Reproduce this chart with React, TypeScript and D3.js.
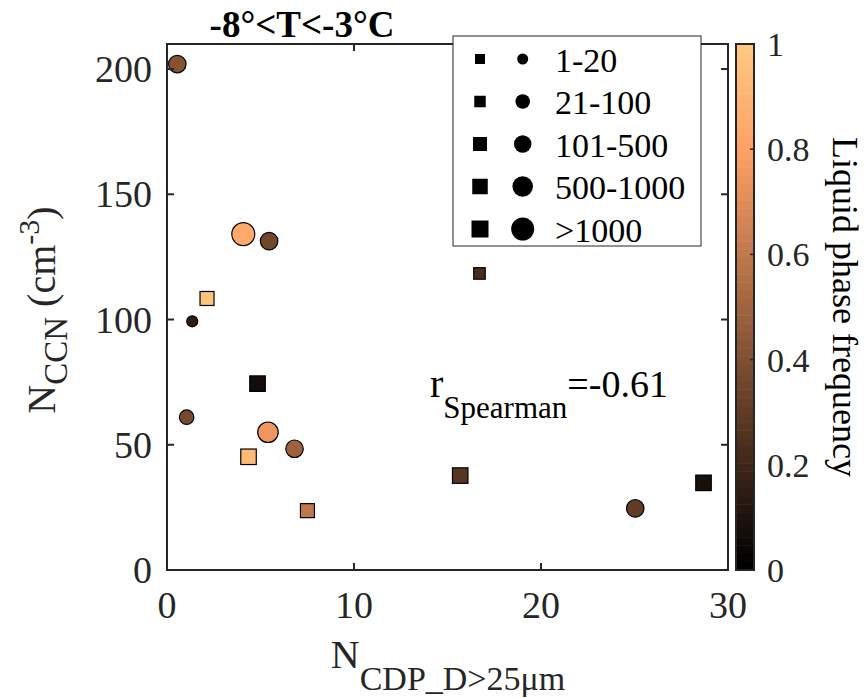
import React from "react";
import * as d3 from "d3";

const xValues = [0.55, 4.08, 5.46, 2.14, 1.35, 4.84, 1.05, 5.4, 6.82, 4.36, 7.51, 16.71, 15.68, 25.04, 28.69];
const yValues = [202, 134.1, 131.3, 108.4, 99.3, 74.4, 61, 55, 48.4, 45.2, 23.7, 118.4, 37.7, 24.6, 34.8];
const liquidFreq = [0.42, 0.85, 0.35, 0.98, 0.14, 0.06, 0.37, 0.75, 0.49, 0.93, 0.6, 0.23, 0.27, 0.3, 0.08];
const shapes = ["circle", "circle", "circle", "square", "circle", "square", "circle", "circle", "circle", "square", "square", "square", "square", "circle", "square"];
const sizeClass = [2, 4, 2, 2, 0, 3, 1, 3, 2, 3, 2, 1, 3, 2, 3];

const sizeLabels = ["1-20", "21-100", "101-500", "500-1000", ">1000"];
const xTicks = [0, 10, 20, 30];
const yTicks = [0, 50, 100, 150, 200];
const cbTicks = [0, 0.2, 0.4, 0.6, 0.8, 1];

const circleD = [11, 14.5, 17.5, 20.5, 23];
const squareS = [10, 11.5, 14, 15.5, 17];

const W = 866, H = 698;
const L = 167, R = 728, T = 44, B = 570;
const FONT = "Liberation Serif";
const AX = "#262626";
const fs = (size: number, extra: any = {}) => ({ fontFamily: FONT, fontSize: size + "px", ...extra });

function copper(v: number) {
  const r = Math.min(1, 1.25 * v), g = 0.7812 * v, b = 0.4975 * v;
  return d3.rgb(r * 255, g * 255, b * 255).formatHex();
}

export default function App() {
  const x = d3.scaleLinear().domain([0, 30]).range([L, R]);
  const y = d3.scaleLinear().domain([0, 210]).range([B, T]);
  const cbX0 = 736, cbX1 = 754;
  const cy = d3.scaleLinear().domain([0, 1]).range([B, T]);
  const tl = 7;
  const steps = d3.range(0, 64);

  const marker = (shape: string, cls: number, cxp: number, cyp: number, fill: string, stroke: string, key: string) =>
    shape === "circle" ? (
      <circle key={key} cx={cxp} cy={cyp} r={circleD[cls] / 2} fill={fill} stroke={stroke} strokeWidth={1.2} />
    ) : (
      <rect key={key} x={cxp - squareS[cls] / 2} y={cyp - squareS[cls] / 2} width={squareS[cls]} height={squareS[cls]} fill={fill} stroke={stroke} strokeWidth={1.2} />
    );

  const legTop = 36, legRow = 42.5;
  return (
    <svg width={W} height={H} style={{ position: "absolute", left: 0, top: 0, background: "#fff", fontFamily: FONT }}>
      <rect x={0} y={0} width={W} height={H} fill="#fff" />
      {xValues.map((xv, i) => marker(shapes[i], sizeClass[i], x(xv), y(yValues[i]), copper(liquidFreq[i]), "#000", "p" + i))}
      <rect x={L} y={T} width={R - L} height={B - T} fill="none" stroke={AX} strokeWidth={2} />
      {xTicks.map((t) => (
        <g key={"xt" + t}>
          <line x1={x(t)} x2={x(t)} y1={B} y2={B - tl} stroke={AX} strokeWidth={2} />
          <line x1={x(t)} x2={x(t)} y1={T} y2={T + tl} stroke={AX} strokeWidth={2} />
          <text x={x(t)} y={618} textAnchor="middle" style={fs(38)} fill={AX}>{t}</text>
        </g>
      ))}
      {yTicks.map((t) => (
        <g key={"yt" + t}>
          <line x1={L} x2={L + tl} y1={y(t)} y2={y(t)} stroke={AX} strokeWidth={2} />
          <line x1={R} x2={R - tl} y1={y(t)} y2={y(t)} stroke={AX} strokeWidth={2} />
          <text x={152} y={y(t) + 13} textAnchor="end" style={fs(38)} fill={AX}>{t}</text>
        </g>
      ))}
      <text x={302} y={36.5} textAnchor="middle" style={fs(37, { fontWeight: "bold" })} fill="#000">-8°&lt;T&lt;-3°C</text>
      <text x={448} y={668} textAnchor="middle" fill={AX} style={fs(40)}>
        <tspan style={fs(40)}>N</tspan>
        <tspan style={fs(34)} dy={22}>CDP_D&gt;25μm</tspan>
      </text>
      <text transform={`translate(55,310) rotate(-90)`} textAnchor="middle" fill={AX} style={fs(40)}>
        <tspan style={fs(40)}>N</tspan>
        <tspan style={fs(33)} dy={12}>CCN</tspan>
        <tspan style={fs(40)} dy={-12}> (cm</tspan>
        <tspan style={fs(30)} dy={-16}>-3</tspan>
        <tspan style={fs(40)} dy={16}>)</tspan>
      </text>
      <text x={430} y={397} fill="#000" style={fs(40)}>
        <tspan style={fs(40)}>r</tspan>
        <tspan style={fs(31)} dy={21}>Spearman</tspan>
        <tspan style={fs(38)} dy={-21}>=-0.61</tspan>
      </text>
      <rect x={453} y={legTop} width={248} height={210} fill="#fff" stroke="#262626" strokeWidth={1} />
      {sizeLabels.map((lab, i) => {
        const ry = 59 + i * legRow;
        return (
          <g key={"lg" + i}>
            {marker("square", i, 480, ry, "#000", "none", "ls" + i)}
            {marker("circle", i, 522.7, ry, "#000", "none", "lc" + i)}
            <text x={555} y={ry + 12.5} style={fs(34)} fill="#000">{lab}</text>
          </g>
        );
      })}
      {steps.map((s) => (
        <rect key={"cb" + s} x={cbX0} width={cbX1 - cbX0} y={cy((s + 1) / 64)} height={cy(s / 64) - cy((s + 1) / 64) + 0.5} fill={copper(s / 63)} />
      ))}
      <rect x={cbX0} y={T} width={cbX1 - cbX0} height={B - T} fill="none" stroke={AX} strokeWidth={2} />
      {cbTicks.map((t) => (
        <g key={"cbt" + t}>
          <line x1={cbX1} x2={cbX1 - 4} y1={cy(t)} y2={cy(t)} stroke={AX} strokeWidth={1.5} />
          <text x={767} y={cy(t) + 12} style={fs(34)} fill={AX}>{t}</text>
        </g>
      ))}
      <text transform={`translate(833,307) rotate(90)`} textAnchor="middle" style={fs(36)} fill="#000">Liquid phase frequency</text>
    </svg>
  );
}
